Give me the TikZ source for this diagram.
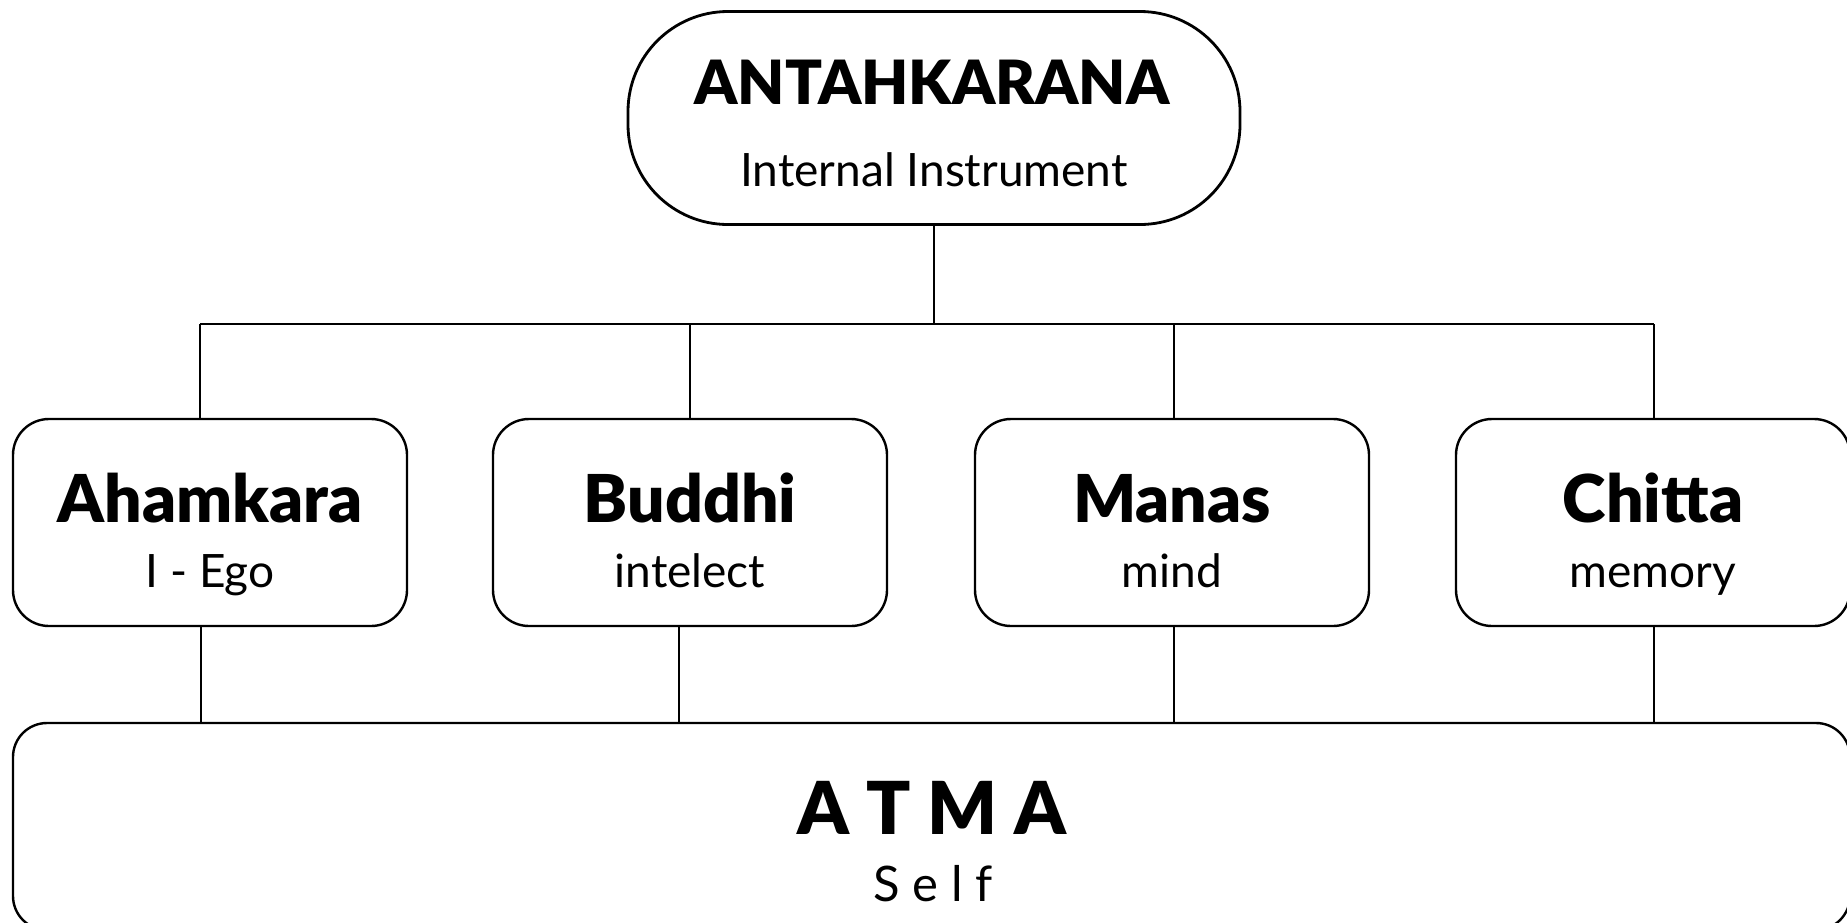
\documentclass[tikz,border=0pt]{standalone}
\usepackage{fontspec}
\setmainfont[BoldFont={Lato Black}]{Lato}
\usetikzlibrary{positioning}

\begin{document}
\begin{tikzpicture}[x=1pt, y=-1pt,
  every node/.style={inner sep=0pt},
  frame/.style={draw, line width=2.4pt},
  pill/.style={frame, line width=2.8pt, rounded corners=100pt, minimum width=612pt, minimum height=213pt},
  unitbox/.style={frame, rounded corners=36pt, minimum width=394pt, minimum height=207pt},
  basebox/.style={frame, rounded corners=34pt, minimum width=1837pt, minimum height=207pt},
  headline/.style={anchor=base, font=\fontsize{#1}{#1}\selectfont\bfseries},
  subline/.style={anchor=base, font=\fontsize{#1}{#1}\selectfont},
  wire/.style={line width=2pt}]
\useasboundingbox (0,0) rectangle (1847,922);

% top
\node[pill] (antah) at (934,118) {};
\node[headline=61pt] (antah-head) at (932,104) {ANTAHKARANA};
\node[subline=46pt] (antah-sub) at (934,186) {Internal Instrument};

% bottom
\node[basebox] (atma) at (931.5,826.5) {};
\node[headline=73pt] (atma-head) at (932,834) {A T M A};
\node[subline=49pt] (atma-sub) at (933,901) {S e l f};

\coordinate (bus) at (0,324);
\draw[wire] (antah.south) -- (antah.south |- bus);

% the four parts
\foreach \name/\x/\xt/\xb/\head/\sub in {aham/210/200/201/Ahamkara/I - Ego,
    buddhi/690/690/679/Buddhi/intelect,
    manas/1172/1174/1174/Manas/mind,
    chitta/1653/1654/1654/Chitta/memory}{
  \node[unitbox] (\name) at (\x,522.5) {};
  \node[headline=66pt] (\name-head) at (\x,522) {\head};
  \node[subline=46pt] (\name-sub) at (\x,587) {\sub};
  \path (\name.north) ++({\xt-\x},0) coordinate (\name-up);
  \path (\name.south) ++({\xb-\x},0) coordinate (\name-dn);
  \draw[wire] (\name-up |- bus) -- (\name-up);
  \draw[wire] (\name-dn) -- (\name-dn |- atma.north);
}
\draw[wire] (aham-up |- bus) -- (chitta-up |- bus);
\end{tikzpicture}
\end{document}
